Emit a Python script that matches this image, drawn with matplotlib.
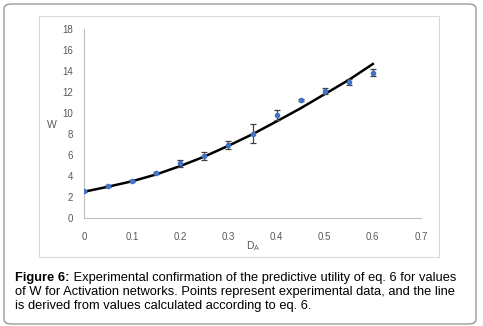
import matplotlib
matplotlib.use("Agg")
import matplotlib.pyplot as plt
from matplotlib.patches import FancyBboxPatch, Rectangle

# data
d_a = [0, 0.05, 0.1, 0.15, 0.2, 0.25, 0.3, 0.35, 0.4, 0.45, 0.5, 0.55, 0.6]
w_exp = [2.55, 3.05, 3.55, 4.25, 5.2, 5.93, 6.95, 8.03, 9.81, 11.24, 12.1, 12.95, 13.84]
w_err = [0.05, 0.05, 0.08, 0.1, 0.37, 0.4, 0.38, 0.9, 0.48, 0.08, 0.29, 0.29, 0.35]
w_calc = [2.5, 2.98, 3.5, 4.15, 4.95, 5.85, 6.88, 7.98, 9.2, 10.45, 11.8, 13.15, 14.67]

x_ticks = [0, 0.1, 0.2, 0.3, 0.4, 0.5, 0.6, 0.7]
y_ticks = [0, 2, 4, 6, 8, 10, 12, 14, 16, 18]

caption_bold = "Figure 6:"
caption_rest = [" Experimental confirmation of the predictive utility of eq. 6 for values",
                "of W for Activation networks. Points represent experimental data, and the line",
                "is derived from values calculated according to eq. 6."]

W, H = 483, 326
fig = plt.figure(figsize=(W / 100, H / 100), dpi=100)
plt.rcParams["font.family"] = ["Liberation Sans", "DejaVu Sans"]

# outer rounded box
fig.patches.append(FancyBboxPatch((4 / W, 2 / H), 472 / W, 320 / H,
                                  boxstyle="round,pad=0,rounding_size=0.015",
                                  transform=fig.transFigure, fill=False,
                                  ec="#9a9a9a", lw=1.0))
# inner chart box
fig.patches.append(Rectangle((39 / W, (H - 257) / H), 400 / W, 241 / H,
                             transform=fig.transFigure, fill=False,
                             ec="#d9d9d9", lw=0.8))

ax = fig.add_axes([84 / W, (H - 218) / H, 337 / W, 189 / H])
ax.plot(d_a, w_calc, color="black", lw=1.8, zorder=2)
ax.errorbar(d_a, w_exp, yerr=w_err, fmt="o", ms=3, color="#4472c4",
            ecolor="#404040", elinewidth=0.9, capsize=2.5, capthick=0.9, zorder=3)

ax.set_xlim(0, 0.7)
ax.set_ylim(0, 18)
ax.set_xticks(x_ticks)
ax.set_xticklabels([f"{v:g}" for v in x_ticks])
ax.set_yticks(y_ticks)
for s in ["top", "right"]:
    ax.spines[s].set_visible(False)
for s in ["left", "bottom"]:
    ax.spines[s].set_color("#bfbfbf")
    ax.spines[s].set_linewidth(0.8)
ax.tick_params(length=0, labelsize=7, colors="#595959", pad=10)
ax.tick_params(axis="y", pad=8)
ax.set_facecolor("none")

fig.text(52 / W, 1 - 125 / H, "W", fontsize=7.5, color="#595959", ha="center", va="center")
fig.text(253 / W, 1 - 246 / H, "D$_\\mathregular{A}$", fontsize=7.5, color="#595959",
         ha="center", va="center")

# caption
x0, y0 = 15 / W, 1 - 278 / H
t = fig.text(x0, y0, caption_bold, fontsize=9.3, fontweight="bold", va="center")
fig.canvas.draw()
bb = t.get_window_extent()
fig.text(bb.x1 / W, y0, caption_rest[0], fontsize=9.3, va="center")
for i, line in enumerate(caption_rest[1:], start=1):
    fig.text(x0, y0 - i * 14 / H, line, fontsize=9.3, va="center")

fig.savefig("out.png", dpi=100)
